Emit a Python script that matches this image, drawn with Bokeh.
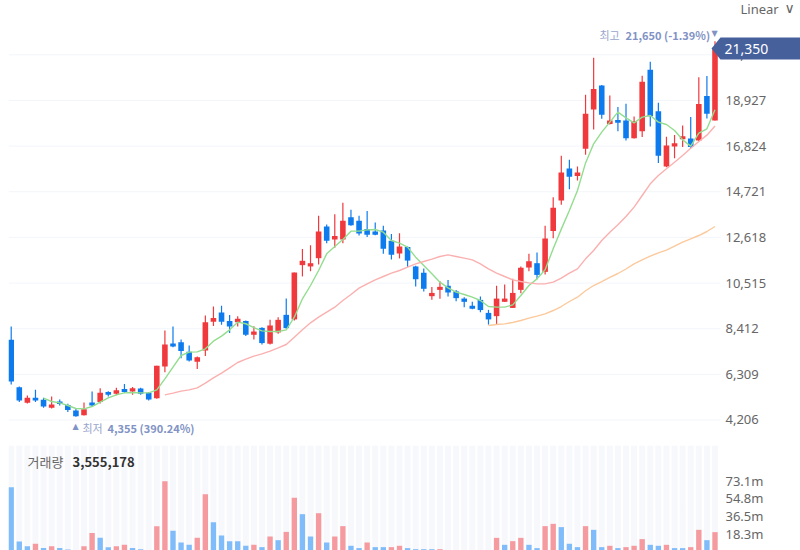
from bokeh.embed import file_html
from bokeh.layouts import column
from bokeh.models import (ColumnDataSource, FixedTicker, Label, LinearAxis, NumeralTickFormatter,
                          PolyAnnotation, PrintfTickFormatter, Range1d)
from bokeh.plotting import figure
from bokeh.resources import INLINE

opens = [7900, 5720, 5000, 5230, 5140, 4770, 5060, 4900, 4640, 4430, 5010, 5030, 5500, 5410, 5630, 5520,
         5660, 5460, 5210, 6670, 7730, 7790, 7350, 6890, 7410, 8730, 9160, 8770, 8710, 8770, 8130, 8450,
         7720, 8240, 9050, 8840, 11340, 11280, 11660, 13120, 12520, 12520, 13550, 13380, 13000, 12890,
         12940, 12460, 11880, 12180, 11280, 10990, 9910, 10200, 10390, 10130, 9800, 9470, 9740, 9140,
         8990, 9650, 9370, 10200, 11230, 11430, 11030, 12910, 14320, 15790, 15450, 16700, 18510, 19620,
         17840, 18030, 18000, 17190, 17510, 20340, 18430, 15880, 16810, 17140, 17170, 17080, 19130, 18000]
highs = [8510, 5750, 5330, 5600, 5230, 5290, 5150, 4950, 4710, 5010, 5520, 5670, 5530, 5690, 5860, 5730,
         5690, 5490, 6700, 8330, 8510, 7910, 7640, 7130, 9020, 9430, 9470, 9040, 8990, 8790, 8530, 8480,
         8820, 8940, 9800, 11000, 12080, 12260, 13610, 13210, 13690, 14210, 13890, 13610, 13830, 13300,
         13150, 12780, 12810, 12200, 11310, 11190, 10330, 10600, 10660, 10200, 9860, 9650, 9900, 9280,
         10390, 10450, 10710, 11280, 11860, 11920, 13150, 14470, 16380, 16190, 15880, 19190, 20890, 19640,
         19160, 18620, 18770, 18190, 20060, 20710, 18820, 17250, 17340, 17770, 18160, 20000, 20050, 21650]
lows = [5840, 5030, 4970, 5030, 4770, 4740, 4870, 4580, 4355, 4410, 4840, 4970, 5290, 5350, 5460, 5370,
        5370, 5100, 5180, 6410, 7560, 7050, 6900, 6550, 7150, 8540, 8590, 8210, 8510, 8070, 7910, 7680,
        7680, 8180, 8410, 8790, 10820, 11060, 11370, 12350, 12140, 12350, 13150, 12710, 12640, 12720,
        11860, 11600, 11650, 11260, 10360, 10130, 9740, 9790, 9900, 9680, 9400, 9310, 9170, 8600,
        8600, 9640, 9360, 10050, 11060, 10690, 10910, 12580, 14120, 14840, 15240, 16420, 17590, 18080,
        17820, 17510, 17080, 17180, 17240, 17730, 16040, 15850, 16270, 16780, 16740, 17050, 18100, 18000]
closes = [5980, 5100, 5230, 5100, 4830, 4920, 4940, 4670, 4380, 4700, 4870, 5460, 5370, 5580, 5490, 5670,
          5410, 5150, 6700, 7680, 7590, 7380, 6950, 7100, 8710, 8910, 8730, 8510, 8870, 8130, 8280, 7750,
          8560, 8820, 8440, 11000, 11540, 11430, 12890, 12460, 12680, 13380, 13180, 12800, 12740, 12740,
          12090, 11820, 12200, 11550, 10690, 10250, 10060, 10340, 10080, 9820, 9650, 9330, 9270, 8840,
          9800, 9800, 10060, 11220, 11520, 10890, 12570, 13980, 15610, 15410, 15610, 18310, 19460, 18270,
          18000, 17900, 17190, 17970, 19790, 18200, 16380, 16850, 16960, 17280, 16780, 18760, 18310, 21350]

# moving averages, each one starts later than the candles
ma_short_start = 4
ma_short = [5211, 5058, 4996, 4873, 4735, 4720, 4827, 5027, 5227, 5365, 5457, 5473, 5457, 5457, 5595, 6102,
            6640, 7177, 7331, 7346, 7484, 7837, 8068, 8360, 8713, 8640, 8460, 8314, 8283, 8283, 8360, 8943,
            9788, 10402, 11093, 11861, 12199, 12522, 12905, 12905, 12967, 12982, 12859, 12475, 12353, 12168,
            11707, 11323, 10939, 10556, 10295, 10095, 9987, 9864, 9711, 9434, 9404, 9404, 9511, 9941, 10402,
            10709, 11124, 12100, 13000, 13857, 14779, 16050, 16929, 17466, 17927, 18387, 18126, 17896, 18157,
            18234, 17927, 17819, 17543, 17113, 16821, 17420, 17620, 18495]
ma_mid_start = 19
ma_mid = [5365, 5442, 5534, 5595, 5687, 5902, 6148, 6363, 6609, 6855, 7008, 7147, 7254, 7377, 7530, 7684,
          8022, 8360, 8682, 8943, 9174, 9404, 9711, 9988, 10279, 10479, 10663, 10817, 10970, 11093, 11247,
          11400, 11508, 11615, 11738, 11815, 11738, 11661, 11584, 11400, 11170, 10970, 10817, 10663, 10586,
          10525, 10479, 10479, 10556, 10740, 10970, 11170, 11631, 12014, 12475, 12859, 13197, 13581, 14011,
          14548, 15086, 15470, 15777, 16084, 16391, 16729, 17036, 17328, 17750]
ma_long_start = 59
ma_long = [8559, 8605, 8636, 8697, 8789, 8897, 8989, 9097, 9250, 9434, 9665, 9864, 10160, 10402, 10586,
           10771, 10955, 11162, 11400, 11585, 11753, 11907, 12030, 12214, 12398, 12552, 12705, 12890, 13120]

# volume in millions, and whether the bar is drawn red
volumes = [66.5, 10.4, 5.5, 7.9, 3.5, 5.5, 3.5, 2.1, 0.8, 5.5, 19.0, 14.1, 4.5, 5.5, 6.9, 3.5, 2.4, 0.8,
           26.2, 72.7, 21.4, 9.3, 6.9, 14.1, 59.3, 30.3, 16.6, 10.7, 10.7, 5.9, 6.9, 4.5, 15.5, 11.7, 20.3,
           55.5, 38.6, 15.5, 39.6, 9.3, 15.5, 26.2, 5.9, 3.5, 9.3, 4.5, 4.5, 4.5, 5.9, 3.5, 2.4, 2.4, 2.4,
           2.4, 0.7, 0.7, 0.7, 0.7, 0.7, 0.7, 14.1, 6.9, 10.7, 14.1, 6.9, 3.5, 26.2, 28.6, 25.2, 8.0, 4.5,
           26.2, 22.4, 4.5, 5.9, 3.5, 4.5, 5.9, 12.8, 6.9, 5.9, 6.9, 3.5, 3.5, 4.5, 22.4, 11.7, 20.0]
volume_up = [0, 0, 0, 1, 0, 1, 0, 0, 0, 1, 1, 0, 0, 1, 1, 0, 0, 0,
             1, 1, 0, 0, 0, 1, 1, 0, 0, 0, 0, 0, 1, 0, 1, 0, 1,
             1, 0, 0, 1, 0, 1, 1, 0, 0, 1, 0, 0, 1, 1, 0, 0, 0, 0,
             1, 0, 0, 0, 0, 0, 0, 1, 0, 1, 1, 0, 0, 1, 1, 0, 0, 0,
             1, 0, 0, 1, 0, 1, 1, 1, 0, 0, 1, 0, 0, 1, 1, 0, 1]

price_ticks = [4206, 6309, 8412, 10515, 12618, 14721, 16824, 18927, 21030]
volume_ticks = [18.3, 36.5, 54.8, 73.1]

RED = "#f0393d"
BLUE = "#0d7bed"
TAG = "#46609b"
KR = "Noto Sans CJK KR"
LABEL_BLUE = "#8193c4"

x = list(range(len(closes)))
# frame runs to the right edge: svg output clips annotations to the frame, and the tag and header sit out there
x_range = Range1d(-0.334, 97.57)
GRID_LEFT, GRID_RIGHT = -0.334, 87.68
AXIS_AT = 88.3

candles = ColumnDataSource(dict(
    x=x,
    high=highs,
    low=lows,
    top=[max(a, b) for a, b in zip(opens, closes)],
    bottom=[min(a, b) for a, b in zip(opens, closes)],
    color=[RED if c >= o else BLUE for o, c in zip(opens, closes)],
))


def right_axis(fig, ticks, formatter):
    axis = LinearAxis(fixed_location=AXIS_AT, ticker=FixedTicker(ticks=ticks), formatter=formatter)
    axis.axis_line_color = None
    axis.major_tick_line_color = None
    axis.minor_tick_line_color = None
    axis.major_tick_out = 0
    axis.major_tick_in = 0
    axis.major_label_standoff = 0
    axis.major_label_text_font = "Noto Sans"
    axis.major_label_text_font_size = "13px"
    axis.major_label_text_color = "#666666"
    fig.add_layout(axis, "right")


p = figure(width=800, height=445, x_range=x_range, y_range=Range1d(3031, 23532),
           output_backend="svg", toolbar_location=None, x_axis_location=None, y_axis_location=None,
           min_border_left=8, min_border_right=0, min_border_top=0, min_border_bottom=0,
           outline_line_color=None)
p.grid.visible = False

p.segment(GRID_LEFT, price_ticks, GRID_RIGHT, price_ticks, line_color="#f2f5fa", line_width=1, level="underlay")
right_axis(p, price_ticks, NumeralTickFormatter(format="0,0"))

p.segment("x", "high", "x", "low", color="color", line_width=1.2, source=candles)
p.vbar("x", 0.69, "top", "bottom", fill_color="color", line_color=None, source=candles)

p.line(x[ma_short_start:], ma_short, line_color="#93dd8f", line_width=1.4)
p.line(x[ma_mid_start:], ma_mid, line_color="#fbb0b0", line_width=1.4)
p.line(x[ma_long_start:], ma_long, line_color="#fcc99c", line_width=1.4)

# current price tag
last = closes[-1]
p.add_layout(PolyAnnotation(xs=[711, 720, 800, 800, 720], ys=[48, 37, 37, 59, 59],
                            xs_units="canvas", ys_units="canvas",
                            fill_color=TAG, fill_alpha=1, line_color=None))


def text(s, tx, ty, size, color, style="normal", font=KR):
    p.add_layout(Label(x=tx, y=ty, x_units="canvas", y_units="canvas", text=s, text_font=font,
                       text_font_size=size, text_color=color, text_font_style=style,
                       text_baseline="middle"))


text(f"{last:,}", 724, 48, "14px", "#ffffff", font="Noto Sans")
text("최고", 599, 34, "11px", "#98a6cd")
text("21,650 (-1.39%)", 625, 34, "11px", LABEL_BLUE, "bold")
text("▼", 711, 33, "8px", LABEL_BLUE, font="DejaVu Sans")
text("▲", 72, 426, "8px", LABEL_BLUE, font="DejaVu Sans")
text("최저", 82, 427, "11px", "#98a6cd")
text("4,355 (390.24%)", 107, 427, "11px", LABEL_BLUE, "bold")
text("Linear", 740, 8, "13px", "#666666", font="Noto Sans")
text("∨", 784, 7, "14px", "#666666", font="DejaVu Sans")

v = figure(width=800, height=105, x_range=x_range, y_range=Range1d(1.03, 109.6),
           output_backend="svg", toolbar_location=None, x_axis_location=None, y_axis_location=None,
           min_border_left=8, min_border_right=0, min_border_top=0, min_border_bottom=0,
           outline_line_color=None)
v.grid.visible = False
right_axis(v, volume_ticks, PrintfTickFormatter(format="%.1fm"))

v.vbar(x, 0.74, 109.6, 0, fill_color="#f7f8fc", line_color=None)
v.vbar(x, 0.66, volumes, 0, line_color=None,
       fill_color=["#f59a9f" if up else "#80bcf9" for up in volume_up])
v.add_layout(Label(x=27, y=16, x_units="canvas", y_units="canvas", text="거래량", text_font=KR,
                   text_font_size="13px", text_color="#666666", text_baseline="middle"))
v.add_layout(Label(x=72, y=16, x_units="canvas", y_units="canvas", text="3,555,178", text_font=KR,
                   text_font_size="13px", text_color="#333333", text_font_style="bold",
                   text_baseline="middle"))

page = column(p, v, spacing=0)
open("out.html", "w").write(file_html(page, INLINE))
